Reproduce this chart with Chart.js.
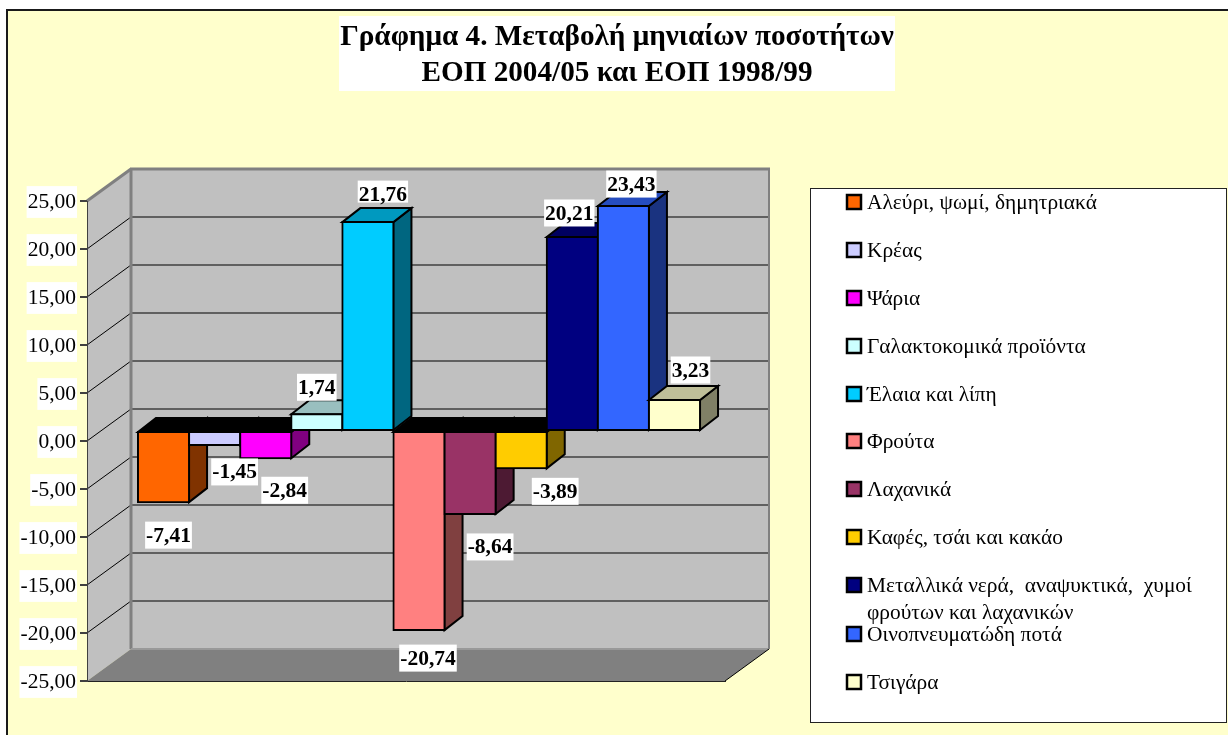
<!DOCTYPE html>
<html><head><meta charset="utf-8">
<style>html,body{margin:0;padding:0;background:#fff;overflow:hidden}canvas{display:block}</style>
<script src="https://cdn.jsdelivr.net/npm/chart.js@4/dist/chart.umd.min.js"></script>
</head><body><div style="width:1228px;height:735px;position:relative"><canvas id="c" width="1228" height="735"></canvas></div>
<script>
const titleLines = ["Γράφημα 4. Μεταβολή μηνιαίων ποσοτήτων", "ΕΟΠ 2004/05 και ΕΟΠ 1998/99"];
const categories = [""];
const seriesNames = ["Αλεύρι, ψωμί, δημητριακά","Κρέας","Ψάρια","Γαλακτοκομικά προϊόντα","Έλαια και λίπη","Φρούτα","Λαχανικά","Καφές, τσάι και κακάο","Μεταλλικά νερά,  αναψυκτικά,  χυμοί\nφρούτων και λαχανικών","Οινοπνευματώδη ποτά","Τσιγάρα"];
const seriesValues = [-7.41,-1.45,-2.84,1.74,21.76,-20.74,-8.64,-3.89,20.21,23.43,3.23];
const seriesColors = ["#FF6600","#CCCCFF","#FF00FF","#CCFFFF","#00CCFF","#FF8080","#993366","#FFCC00","#000080","#3366FF","#FFFFCC"];
const yMin = -25, yMax = 25, yStep = 5;
// label placement (style only): offset of the label centre from the bar's end, optional trim of the box bottom
const labelNudges = [[5,33],[20,27],[19,32],[0,-27],[15,-28,5],[9,28],[20,33],[34,23],[-3,-24],[8,-22],[16,-30]];
const legendRowY = [202,250,298,346,394,441,489,537,585,634,682];

const DX=13, DY=-10, DEPTH_X=18, DEPTH_Y=-14, WALL_X=44, WALL_Y=-32;
const SERIF='"Liberation Serif","Times New Roman",serif';
const fmt=v=>v.toFixed(2).replace('.',',');
function shade(hex,f){const n=parseInt(hex.slice(1),16);
  return `rgb(${Math.round((n>>16&255)*f)},${Math.round((n>>8&255)*f)},${Math.round((n&255)*f)})`;}
function poly(ctx,pts,fill,stroke,w){ctx.beginPath();pts.forEach((p,i)=>i?ctx.lineTo(p[0],p[1]):ctx.moveTo(p[0],p[1]));ctx.closePath();
  if(fill){ctx.fillStyle=fill;ctx.fill();}
  if(stroke){ctx.strokeStyle=stroke;ctx.lineWidth=w;ctx.lineJoin='miter';ctx.stroke();}}
function line(ctx,x1,y1,x2,y2,c,w){ctx.strokeStyle=c;ctx.lineWidth=w;ctx.beginPath();ctx.moveTo(x1,y1);ctx.lineTo(x2,y2);ctx.stroke();}

const scene={id:'scene',
  beforeDraw(chart){
    const ctx=chart.ctx,{left:L,right:R,top:T,bottom:B}=chart.chartArea,y=chart.scales.y;
    ctx.save();
    ctx.fillStyle='#fff';ctx.fillRect(0,0,1228,735);
    ctx.fillStyle='#FFFFCC';ctx.fillRect(6,9,1222,726);
    line(ctx,6,10,1228,10,'#1a1a1a',2);
    line(ctx,7,9,7,735,'#1a1a1a',2);
    // walls and floor
    poly(ctx,[[L,T],[L+WALL_X,T+WALL_Y],[L+WALL_X,B+WALL_Y],[L,B]],'#C0C0C0');
    poly(ctx,[[L+WALL_X,T+WALL_Y],[R+WALL_X,T+WALL_Y],[R+WALL_X,B+WALL_Y],[L+WALL_X,B+WALL_Y]],'#C0C0C0');
    poly(ctx,[[L,B],[R,B],[R+WALL_X,B+WALL_Y],[L+WALL_X,B+WALL_Y]],'#808080');
    y.ticks.forEach(t=>{const p=y.getPixelForValue(t.value);
      if(t.value>yMin&&t.value<yMax) line(ctx,L+WALL_X,p+WALL_Y,R+WALL_X,p+WALL_Y,'#404040',1.5);
      if(t.value>yMin&&t.value<yMax) line(ctx,L,p,L+WALL_X,p+WALL_Y,'#000',1);
    });
    line(ctx,L+WALL_X,T+WALL_Y,L+WALL_X,B+WALL_Y,'#808080',3);
    line(ctx,R+WALL_X,T+WALL_Y,R+WALL_X,B+WALL_Y,'#808080',2);
    line(ctx,L,T,L+WALL_X,T+WALL_Y,'#808080',3);
    line(ctx,L+WALL_X-1,T+WALL_Y,R+WALL_X+1,T+WALL_Y,'#808080',3);
    line(ctx,L+WALL_X,B+WALL_Y,R+WALL_X,B+WALL_Y,'#999',2);
    line(ctx,R,B,R+WALL_X,B+WALL_Y,'#000',1);
    ctx.restore();
  },
  // paint the bars left to right so that nearer faces overlap correctly
  beforeDatasetsDraw(chart){
    const ctx=chart.ctx;
    seriesValues.forEach((v,i)=>{
      const meta=chart.getDatasetMeta(i),bar=meta.data[0],col=seriesColors[i];
      const l=bar.x-bar.width/2,r=bar.x+bar.width/2,top=Math.min(bar.y,bar.base),bot=Math.max(bar.y,bar.base);
      ctx.save();
      ctx.translate(DX,DY);
      poly(ctx,[[r,top],[r+DEPTH_X,top+DEPTH_Y],[r+DEPTH_X,bot+DEPTH_Y],[r,bot]],shade(col,0.5),'#000',2);
      poly(ctx,[[l,top],[l+DEPTH_X,top+DEPTH_Y],[r+DEPTH_X,top+DEPTH_Y],[r,top]],v<0?'#000':shade(col,0.75),'#000',2);
      meta.controller.draw();
      ctx.restore();
    });
    return false;
  },
  afterDraw(chart){
    const ctx=chart.ctx;
    ctx.save();
    // value labels
    ctx.textAlign='center';ctx.textBaseline='middle';
    ctx.font='bold 21.5px '+SERIF;
    seriesValues.forEach((v,i)=>{
      const bar=chart.getDatasetMeta(i).data[0],t=fmt(v),n=labelNudges[i];
      const cx=bar.x+DX+n[0],cy=bar.y+DY+n[1];
      const w=ctx.measureText(t).width+2;
      ctx.fillStyle='#fff';ctx.fillRect(cx-w/2,cy-13.5,w,27-(n[2]||0));
      ctx.fillStyle='#000';ctx.fillText(t,cx,cy+1);
    });
    // title
    ctx.fillStyle='#fff';ctx.fillRect(339,16,556,75);
    ctx.fillStyle='#000';ctx.font='bold 29.2px '+SERIF;
    titleLines.forEach((t,i)=>ctx.fillText(t,617,37+i*36));
    // legend
    ctx.fillStyle='#fff';ctx.fillRect(810,188,416,534);
    ctx.strokeStyle='#222';ctx.lineWidth=1;ctx.strokeRect(810.5,188.5,416,534);
    ctx.textAlign='left';ctx.font='21.4px '+SERIF;
    seriesNames.forEach((n,i)=>{
      const y=legendRowY[i];
      ctx.fillStyle=seriesColors[i];ctx.fillRect(847,y-7,14,14);
      ctx.strokeStyle='#000';ctx.lineWidth=2.5;ctx.strokeRect(847,y-7,14,14);
      ctx.fillStyle='#000';
      n.split('\n').forEach((s,k)=>ctx.fillText(s,867,y+1+k*27));
    });
    ctx.restore();
  }
};

new Chart(document.getElementById('c'),{
  type:'bar',
  data:{labels:categories,datasets:seriesNames.map((n,i)=>({
    label:n,data:[seriesValues[i]],backgroundColor:seriesColors[i],borderColor:'#000',borderWidth:2,
    borderSkipped:false,inflateAmount:1,clip:false,
    barPercentage:1,categoryPercentage:0.881}))},
  options:{responsive:false,animation:false,events:[],
    layout:{padding:{left:0,top:201,right:503,bottom:54}},
    plugins:{legend:{display:false},title:{display:false},tooltip:{enabled:false}},
    scales:{
      x:{grid:{display:false},border:{display:true,color:'#222',width:1},ticks:{display:false},afterFit(s){s.height=0;}},
      y:{min:yMin,max:yMax,grid:{drawOnChartArea:false,drawTicks:true,tickLength:7,color:'#404040',lineWidth:2},
        border:{display:true,color:'#404040',width:1},
        ticks:{stepSize:yStep,color:'#000',font:{family:SERIF,size:21.5},padding:4,labelOffset:1,
          showLabelBackdrop:true,backdropColor:'#fff',backdropPadding:{top:3,bottom:3,left:1,right:1},
          callback:v=>fmt(v)},
        afterFit(s){s.width=87;}}
    }},
  plugins:[scene]
});
</script></body></html>
